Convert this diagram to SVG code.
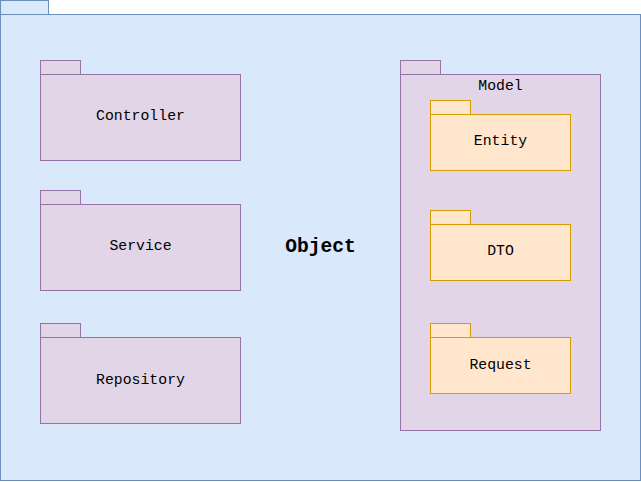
<svg xmlns="http://www.w3.org/2000/svg" width="641" height="482" viewBox="0 0 641 482">
<style>
.outer{fill:#dae8fc;stroke:#6c8ebf;stroke-width:1}
.pkg{fill:#e1d5e7;stroke:#9673a6;stroke-width:1}
.sub{fill:#ffe6cc;stroke:#d79b00;stroke-width:1}
text{font-family:"Liberation Mono","Courier New",monospace;font-size:14.8px;fill:#000;text-anchor:middle;dominant-baseline:central}
.big{font-size:19.6px;font-weight:bold}
</style>
<rect width="641" height="482" fill="#ffffff"/>
<g id="object">
<rect class="outer" x="0.5" y="0.5" width="48" height="14"/>
<rect class="outer" x="0.5" y="14.5" width="640" height="466"/>
<text class="big" x="320.5" y="246.5">Object</text>
</g>
<g id="controller">
<rect class="pkg" x="40.5" y="60.5" width="40" height="14"/>
<rect class="pkg" x="40.5" y="74.5" width="200" height="86"/>
<text x="140.5" y="116">Controller</text>
</g>
<g id="service">
<rect class="pkg" x="40.5" y="190.5" width="40" height="14"/>
<rect class="pkg" x="40.5" y="204.5" width="200" height="86"/>
<text x="140.5" y="246">Service</text>
</g>
<g id="repository">
<rect class="pkg" x="40.5" y="323.5" width="40" height="14"/>
<rect class="pkg" x="40.5" y="337.5" width="200" height="86"/>
<text x="140.5" y="380">Repository</text>
</g>
<g id="model">
<rect class="pkg" x="400.5" y="60.5" width="40" height="14"/>
<rect class="pkg" x="400.5" y="74.5" width="200" height="356"/>
<text x="500.5" y="86">Model</text>
</g>
<g id="entity">
<rect class="sub" x="430.5" y="100.5" width="40" height="14"/>
<rect class="sub" x="430.5" y="114.5" width="140" height="56"/>
<text x="500.5" y="141">Entity</text>
</g>
<g id="dto">
<rect class="sub" x="430.5" y="210.5" width="40" height="14"/>
<rect class="sub" x="430.5" y="224.5" width="140" height="56"/>
<text x="500.5" y="251">DTO</text>
</g>
<g id="request">
<rect class="sub" x="430.5" y="323.5" width="40" height="14"/>
<rect class="sub" x="430.5" y="337.5" width="140" height="56"/>
<text x="500.5" y="365">Request</text>
</g>
<g id="connectors"></g>
</svg>
